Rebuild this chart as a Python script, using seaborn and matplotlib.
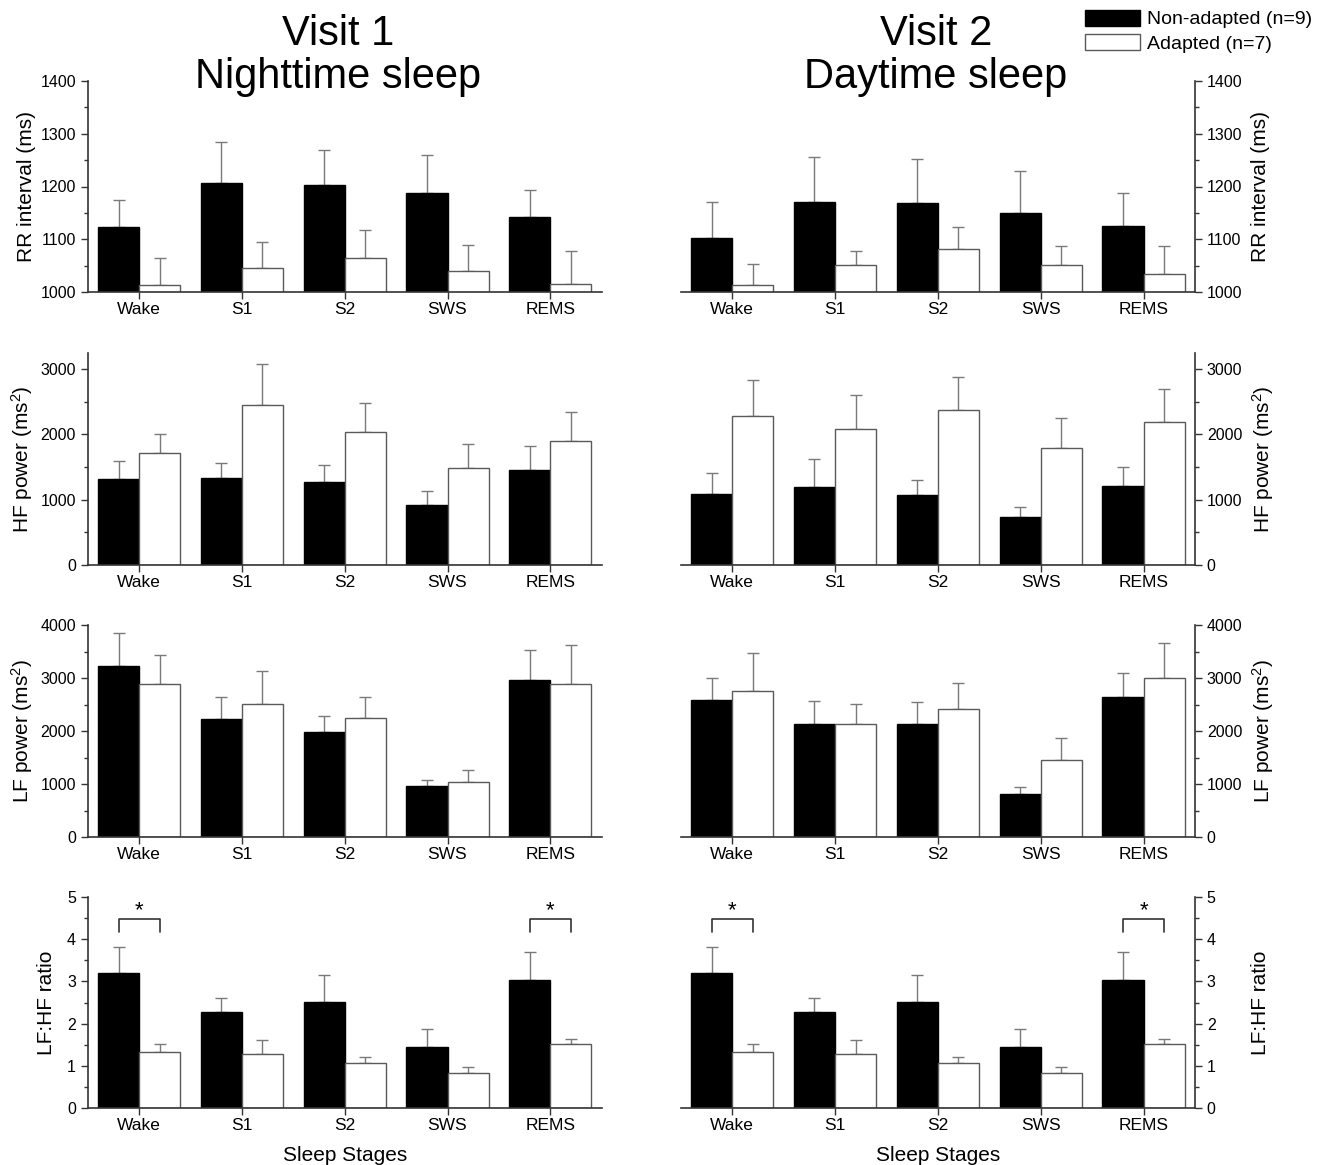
import numpy as np
import pandas as pd
import matplotlib
matplotlib.use("Agg")
import matplotlib.pyplot as plt
from matplotlib.patches import Patch
from matplotlib.ticker import MultipleLocator
import seaborn as sns

# ---- data -----------------------------------------------------------------
stages = ["Wake", "S1", "S2", "SWS", "REMS"]
groups = ["Non-adapted (n=9)", "Adapted (n=7)"]

# RR interval (ms), mean and SEM
rr_night_non = [1123, 1207, 1202, 1188, 1143]
rr_night_non_sem = [51, 77, 68, 72, 51]
rr_night_ad = [1013, 1045, 1064, 1039, 1015]
rr_night_ad_sem = [52, 49, 54, 51, 62]
rr_day_non = [1102, 1170, 1169, 1149, 1125]
rr_day_non_sem = [69, 85, 84, 81, 63]
rr_day_ad = [1014, 1051, 1081, 1051, 1034]
rr_day_ad_sem = [39, 26, 42, 37, 54]

# HF power (ms^2)
hf_night_non = [1311, 1327, 1265, 923, 1459]
hf_night_non_sem = [281, 229, 271, 205, 362]
hf_night_ad = [1714, 2444, 2041, 1480, 1903]
hf_night_ad_sem = [286, 638, 444, 367, 434]
hf_day_non = [1082, 1194, 1066, 740, 1209]
hf_day_non_sem = [321, 423, 235, 143, 286]
hf_day_ad = [2286, 2087, 2372, 1796, 2194]
hf_day_ad_sem = [541, 515, 506, 449, 505]

# LF power (ms^2)
lf_night_non = [3226, 2233, 1987, 962, 2956]
lf_night_non_sem = [629, 415, 290, 107, 566]
lf_night_ad = [2893, 2503, 2239, 1044, 2893]
lf_night_ad_sem = [547, 635, 403, 214, 723]
lf_day_non = [2591, 2138, 2138, 818, 2635]
lf_day_non_sem = [409, 422, 409, 119, 453]
lf_day_ad = [2761, 2126, 2421, 1459, 3006]
lf_day_ad_sem = [704, 377, 478, 403, 661]

# LF:HF ratio
ratio_night_non = [3.20, 2.28, 2.52, 1.45, 3.03]
ratio_night_non_sem = [0.62, 0.33, 0.62, 0.42, 0.67]
ratio_night_ad = [1.32, 1.28, 1.07, 0.82, 1.52]
ratio_night_ad_sem = [0.20, 0.32, 0.15, 0.14, 0.12]
ratio_day_non = [3.20, 2.28, 2.52, 1.45, 3.03]
ratio_day_non_sem = [0.62, 0.33, 0.62, 0.42, 0.67]
ratio_day_ad = [1.32, 1.28, 1.07, 0.82, 1.52]
ratio_day_ad_sem = [0.20, 0.32, 0.15, 0.14, 0.12]

# stages marked as significantly different between groups
sig_stages = ["Wake", "REMS"]

# ---- style ----------------------------------------------------------------
sns.set_style("ticks")
plt.rcParams["font.family"] = ["Liberation Sans", "DejaVu Sans"]
plt.rcParams["mathtext.default"] = "regular"
for key in ["text.color", "axes.labelcolor", "xtick.labelcolor",
            "ytick.labelcolor"]:
    plt.rcParams[key] = "black"

AXIS_COL = "#333333"
EDGE_COL = "#5a5a5a"
ERR_COL = "#7a7a7a"

W, H = 1333, 1165
fig = plt.figure(figsize=(W / 100, H / 100), dpi=100)


def px_rect(x0, x1, top, bottom):
    return [x0 / W, 1 - bottom / H, (x1 - x0) / W, (bottom - top) / H]


col_x = [(87.7, 601.7), (680.7, 1195.0)]
rows = [
    dict(top=81, bottom=292, ylim=(1000, 1400), major=100, minor=50,
         label="RR interval (ms)", lab_left=-0.100,
         data=[(rr_night_non, rr_night_non_sem, rr_night_ad, rr_night_ad_sem),
               (rr_day_non, rr_day_non_sem, rr_day_ad, rr_day_ad_sem)]),
    dict(top=352.7, bottom=565, ylim=(0, 3250), major=1000, minor=500,
         label="HF power (ms$^{2}$)", lab_left=-0.103,
         data=[(hf_night_non, hf_night_non_sem, hf_night_ad, hf_night_ad_sem),
               (hf_day_non, hf_day_non_sem, hf_day_ad, hf_day_ad_sem)]),
    dict(top=625, bottom=837, ylim=(0, 4000), major=1000, minor=500,
         label="LF power (ms$^{2}$)", lab_left=-0.103,
         data=[(lf_night_non, lf_night_non_sem, lf_night_ad, lf_night_ad_sem),
               (lf_day_non, lf_day_non_sem, lf_day_ad, lf_day_ad_sem)]),
    dict(top=897, bottom=1108, ylim=(0, 5), major=1, minor=0.5,
         label="LF:HF ratio", lab_left=-0.062,
         data=[(ratio_night_non, ratio_night_non_sem, ratio_night_ad, ratio_night_ad_sem),
               (ratio_day_non, ratio_day_non_sem, ratio_day_ad, ratio_day_ad_sem)]),
]

palette = {groups[0]: "black", groups[1]: "white"}
edges = {groups[0]: "black", groups[1]: EDGE_COL}

for r, row in enumerate(rows):
    for c in range(2):
        non, non_sem, ad, ad_sem = row["data"][c]
        df = pd.DataFrame({
            "stage": stages * 2,
            "value": list(non) + list(ad),
            "sem": list(non_sem) + list(ad_sem),
            "group": [groups[0]] * 5 + [groups[1]] * 5,
        })
        ax = fig.add_axes(px_rect(*col_x[c], row["top"], row["bottom"]))
        sns.barplot(data=df, x="stage", y="value", hue="group", order=stages,
                    hue_order=groups, palette=palette, errorbar=None,
                    width=0.8, saturation=1, legend=False, ax=ax, zorder=2)

        # bar outlines and upper SEM whiskers, one container per group
        centers = {}
        for g, cont in zip(groups, ax.containers):
            sub = df[df["group"] == g]
            xs, ys = [], []
            for patch, st in zip(cont.patches, stages):
                patch.set_edgecolor(edges[g])
                patch.set_linewidth(1.0)
                xs.append(patch.get_x() + patch.get_width() / 2)
                ys.append(patch.get_height())
            centers[g] = dict(zip(stages, xs))
            sem = sub["sem"].to_numpy()
            ax.errorbar(xs, ys, yerr=[np.zeros_like(sem), sem], fmt="none",
                        ecolor=ERR_COL, elinewidth=1.0, capsize=4,
                        capthick=1.0, zorder=1)

        ax.set_ylim(*row["ylim"])
        ax.set_xlim(-0.5, 4.5)
        ax.yaxis.set_major_locator(MultipleLocator(row["major"]))
        ax.yaxis.set_minor_locator(MultipleLocator(row["minor"]))
        ax.tick_params(axis="both", which="major", direction="out",
                       length=5, width=1.0, color=AXIS_COL, pad=3.5)
        ax.tick_params(axis="y", which="minor", direction="out",
                       length=3, width=1.0, color=AXIS_COL)
        ax.tick_params(axis="x", labelsize=12.5, pad=2)
        ax.tick_params(axis="y", labelsize=11.5)

        if c == 0:
            sns.despine(ax=ax, top=True, right=True)
            ax.set_ylabel(row["label"], fontsize=15)
            ax.yaxis.set_label_coords(row["lab_left"], 0.5)
        else:
            sns.despine(ax=ax, top=True, right=False, left=True)
            ax.yaxis.tick_right()
            ax.yaxis.set_label_position("right")
            ax.set_ylabel(row["label"], fontsize=15)
            ax.yaxis.set_label_coords(1.108, 0.5)
            ax.yaxis.set_minor_locator(MultipleLocator(row["minor"]))
            ax.tick_params(axis="y", which="both", left=False, right=True)
        for sp in ax.spines.values():
            sp.set_color(AXIS_COL)
            sp.set_linewidth(1.2)

        if r == len(rows) - 1:
            ax.set_xlabel("Sleep Stages", fontsize=15, labelpad=9.5)
            for st in sig_stages:
                x0 = centers[groups[0]][st]
                x1 = centers[groups[1]][st]
                ax.plot([x0, x0, x1, x1], [4.17, 4.47, 4.47, 4.17],
                        color=AXIS_COL, lw=1.2, clip_on=False)
                ax.text((x0 + x1) / 2, 4.55, "*", ha="center",
                        va="baseline", fontsize=16, color="black")
        else:
            ax.set_xlabel("")

# ---- titles ---------------------------------------------------------------
for xc, l1, l2 in [(338, "Visit 1", "Nighttime sleep"),
                   (936, "Visit 2", "Daytime sleep")]:
    fig.text(xc / W, 1 - 45 / H, l1, ha="center", va="baseline", fontsize=30)
    fig.text(xc / W, 1 - 88 / H, l2, ha="center", va="baseline", fontsize=30)

# ---- legend ---------------------------------------------------------------
handles = [Patch(facecolor="black", edgecolor="black", lw=1.0),
           Patch(facecolor="white", edgecolor=EDGE_COL, lw=1.0)]
fig.legend(handles, groups, loc="upper left",
           bbox_to_anchor=(1085 / W, 1 - 10 / H), frameon=False,
           fontsize=14, handlelength=2.85, handleheight=0.85,
           handletextpad=0.35, labelspacing=0.3, borderpad=0,
           borderaxespad=0)

fig.savefig("out.png", dpi=100, facecolor="white")
